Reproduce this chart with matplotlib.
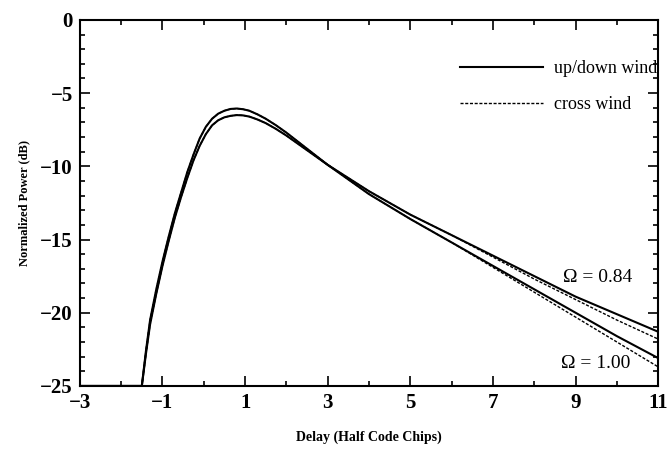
import numpy as np
import matplotlib.pyplot as plt
from matplotlib.ticker import MultipleLocator

plt.rcParams['font.family'] = ['Liberation Serif', 'DejaVu Serif']

# delay axis (half code chips)
delay = [-3.0, -1.5, -1.4, -1.3, -1.15, -1.0, -0.85, -0.7, -0.55, -0.4, -0.25, -0.1,
         0.05, 0.2, 0.35, 0.5, 0.65, 0.8, 0.95, 1.1, 1.3, 1.5, 1.75, 2.0, 2.5,
         3.0, 3.5, 4.0, 5.0, 6.0, 7.0, 8.0, 9.0, 10.0, 11.0]

# Omega = 1.00
updown_100 = [-25.0, -25.0, -22.6, -20.5, -18.4, -16.5, -14.8, -13.2, -11.8, -10.4, -9.2, -8.1,
              -7.3, -6.75, -6.4, -6.2, -6.08, -6.05, -6.1, -6.2, -6.45, -6.75, -7.2, -7.7, -8.8,
              -9.9, -10.9, -11.9, -13.6, -15.2, -16.8, -18.4, -20.0, -21.6, -23.1]
cross_100 = [-25.0, -25.0, -22.6, -20.5, -18.4, -16.5, -14.8, -13.2, -11.8, -10.4, -9.2, -8.1,
             -7.3, -6.75, -6.4, -6.2, -6.08, -6.05, -6.1, -6.2, -6.45, -6.75, -7.2, -7.7, -8.8,
             -9.9, -10.9, -11.9, -13.6, -15.2, -16.9, -18.6, -20.3, -22.0, -23.7]

# Omega = 0.84
updown_084 = [-25.0, -25.0, -22.8, -20.8, -18.7, -16.8, -15.1, -13.5, -12.1, -10.8, -9.6, -8.6,
              -7.8, -7.2, -6.85, -6.65, -6.55, -6.5, -6.52, -6.6, -6.8, -7.05, -7.45, -7.9, -8.9,
              -9.9, -10.8, -11.7, -13.3, -14.7, -16.1, -17.5, -18.9, -20.1, -21.3]
cross_084 = [-25.0, -25.0, -22.8, -20.8, -18.7, -16.8, -15.1, -13.5, -12.1, -10.8, -9.6, -8.6,
             -7.8, -7.2, -6.85, -6.65, -6.55, -6.5, -6.52, -6.6, -6.8, -7.05, -7.45, -7.9, -8.9,
             -9.9, -10.8, -11.7, -13.3, -14.7, -16.2, -17.7, -19.1, -20.5, -21.8]

fig = plt.figure(figsize=[6.71, 4.53], dpi=100)
ax = fig.add_axes([0.119, 0.148, 0.862, 0.808])

dash = (0, (2.2, 1.2))
ax.plot(delay, updown_100, color="black", lw=1.5, label="up/down wind")
ax.plot(delay, cross_100, color="black", lw=1.0, linestyle=dash, label="cross wind")
ax.plot(delay, updown_084, color="black", lw=1.5)
ax.plot(delay, cross_084, color="black", lw=1.0, linestyle=dash)

ax.set_xlim(-3, 11)
ax.set_ylim(-25, 0)
ax.xaxis.set_minor_locator(MultipleLocator(1))
ax.yaxis.set_minor_locator(MultipleLocator(1))
ax.set_xticks([-3, -1, 1, 3, 5, 7, 9, 11])
ax.set_xticklabels(["\u22123", "\u22121", "1", "3", "5", "7", "9", "11"])
ax.set_yticks([0, -5, -10, -15, -20, -25])
ax.set_yticklabels(["0", "\u22125", "\u221210", "\u221215", "\u221220", "\u221225"])
ax.tick_params(which="both", direction="in", top=True, right=True, width=1.2)
ax.tick_params(which="major", length=7, labelsize=15, pad=5)
ax.tick_params(which="minor", length=3.5)
for lab in ax.get_xticklabels() + ax.get_yticklabels():
    lab.set_fontweight("bold")
for s in ax.spines.values():
    s.set_linewidth(1.5)

ax.set_xlabel("Delay (Half Code Chips)", fontsize=10, fontweight="bold", labelpad=13)
ax.set_ylabel("Normalized Power (dB)", fontsize=9, fontweight="bold", labelpad=7)

ax.text(9.53, -17.6, "\u03a9 = 0.84", fontsize=14, ha="center", va="center")
ax.text(9.49, -23.5, "\u03a9 = 1.00", fontsize=14, ha="center", va="center")

ax.legend(loc="upper right", frameon=False, fontsize=13, handlelength=4.6,
          handletextpad=0.6, labelspacing=1.05, borderaxespad=0.3,
          bbox_to_anchor=(1.02, 0.925))

fig.savefig("out.png", dpi=100)
